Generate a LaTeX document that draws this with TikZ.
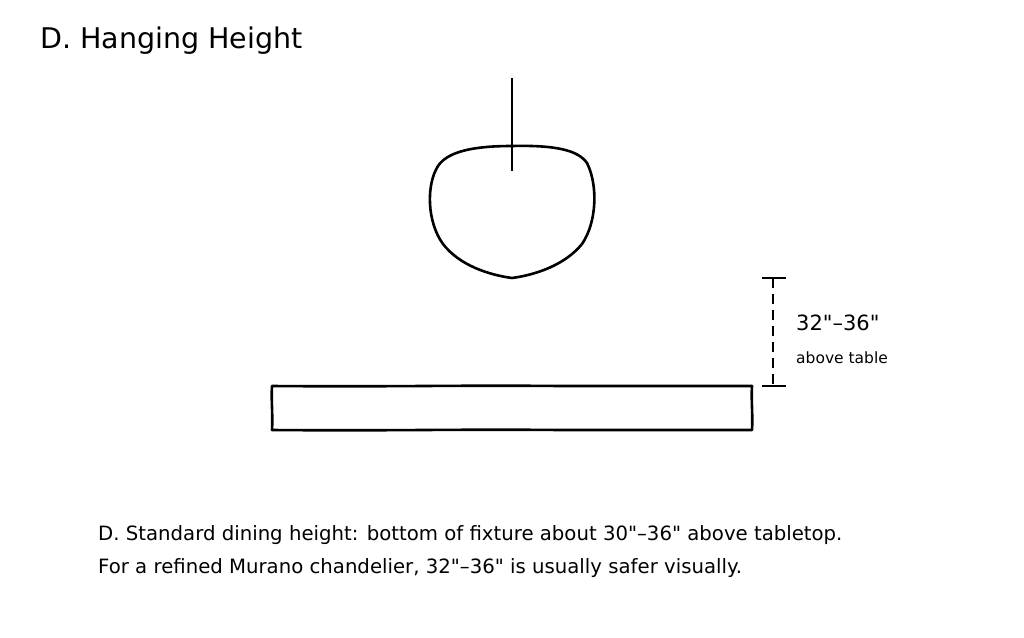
\documentclass[tikz,border=0pt]{standalone}
\usepackage{fontspec}
\setmainfont{DejaVu Sans}[Ligatures=TeXOff]
\begin{document}
\begin{tikzpicture}[x=1pt,y=-1pt,
  thick line/.style={line width=2.6pt,line join=round,line cap=round},
  thin line/.style={line width=1.6pt},
  lbl/.style={anchor=base west,inner sep=0pt,text=black}]
\useasboundingbox[fill=white] (0,0) rectangle (1024,637);
% title
\node[lbl,font=\fontsize{28.5}{32}\selectfont] (title) at (40,48) {D. Hanging Height};
% chandelier
\coordinate (top) at (512,78);
\coordinate (hang) at (512,171);
\draw[thin line] (top) -- (hang);
\draw[thick line] (512,146) .. controls (555,145) and (578,150) .. (587,163)
  .. controls (598,185) and (597,222) .. (582,244)
  .. controls (564,266) and (534,275) .. (512,278)
  .. controls (490,275) and (460,266) .. (443,244)
  .. controls (427,222) and (426,185) .. (438,166)
  .. controls (448,151) and (475,146) .. (512,146) -- cycle;
% table
\draw[thick line] (272,386) .. controls (400,387) and (450,385) .. (560,386) -- (752,386)
  .. controls (751,400) and (753,415) .. (752,430)
  -- (560,430) .. controls (450,429) and (400,431) .. (272,430)
  .. controls (273,415) and (271,400) .. (272,386) -- cycle;
% dimension
\coordinate (dtop) at (773,278);
\coordinate (dbot) at (773,386);
\draw[thin line,dash pattern=on 10pt off 6pt] (dtop) -- (dbot);
\draw[thin line] (762,278) -- (786,278);
\draw[thin line] (762,386) -- (786,386);
\node[lbl,font=\fontsize{21}{24}\selectfont] (dim) at (796,330) {32"–36"};
\node[lbl,font=\fontsize{15.5}{18}\selectfont] (abv) at (796,363) {above table};
% notes
\node[lbl,font=\fontsize{19.7}{22}\selectfont] (n1) at (98,540) {D. Standard dining height: bottom of fixture about 30"–36" above tabletop.};
\node[lbl,font=\fontsize{19.7}{22}\selectfont] (n2) at (98,573) {For a refined Murano chandelier, 32"–36" is usually safer visually.};
\end{tikzpicture}
\end{document}
